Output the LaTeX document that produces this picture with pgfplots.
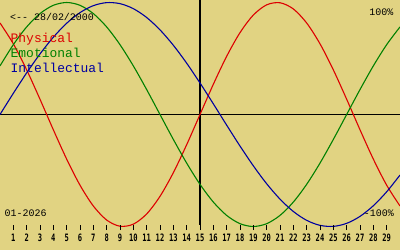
\documentclass[border=0pt]{standalone}
\usepackage{fontspec}
\usepackage{pgfplots}
\pgfplotsset{compat=1.18}
\setmonofont{Liberation Mono}
\newfontfamily\ticksfont[FakeStretch=0.7]{DejaVu Sans Mono}
\definecolor{bgc}{HTML}{E1D382}
\definecolor{phys}{HTML}{DD0000}
\definecolor{emo}{HTML}{008000}
\definecolor{intel}{HTML}{0000A0}
\begin{document}
\begin{tikzpicture}
\fill[bgc] (0,0) rectangle (400bp,250bp);
\begin{axis}[at={(0,0)}, anchor=south west, scale only axis,
  width=400bp, height=250bp, xmin=0, xmax=30, ymin=-120.98, ymax=102.23,
  hide axis, clip=true]
\addplot[black, line width=1.5bp] coordinates {(0,0) (30,0)};
\addplot[black, line width=1.3bp] coordinates {(15,102.23) (15,-99.1)};
% Physical (23 days)
\addplot[phys, line width=1.1bp, smooth] coordinates {
(0,81.70) (1,63.11) (2,39.84) (3,13.62) (4,-13.62) (5,-39.84) (6,-63.11) (7,-81.70)
(8,-94.23) (9,-99.77) (10,-97.91) (11,-88.79) (12,-73.08) (13,-51.96) (14,-26.98)
(15,0) (16,26.98) (17,51.96) (18,73.08) (19,88.79) (20,97.91) (21,99.77) (22,94.23)
(23,81.70) (24,63.11) (25,39.84) (26,13.62) (27,-13.62) (28,-39.84) (29,-63.11) (30,-81.70)};
% Emotional (28 days)
\addplot[emo, line width=1.1bp, smooth] coordinates {
(0,43.39) (1,62.35) (2,78.18) (3,90.10) (4,97.49) (5,100) (6,97.49) (7,90.10)
(8,78.18) (9,62.35) (10,43.39) (11,22.25) (12,0) (13,-22.25) (14,-43.39) (15,-62.35)
(16,-78.18) (17,-90.10) (18,-97.49) (19,-100) (20,-97.49) (21,-90.10) (22,-78.18)
(23,-62.35) (24,-43.39) (25,-22.25) (26,0) (27,22.25) (28,43.39) (29,62.35) (30,78.18)};
% Intellectual (33 days)
\addplot[intel, line width=1.1bp, smooth] coordinates {
(0,0) (1,18.93) (2,37.17) (3,54.06) (4,69.01) (5,81.46) (6,90.96) (7,97.18)
(8,99.89) (9,98.98) (10,94.50) (11,86.60) (12,75.57) (13,61.82) (14,45.82) (15,28.17)
(16,9.51) (17,-9.51) (18,-28.17) (19,-45.82) (20,-61.82) (21,-75.57) (22,-86.60)
(23,-94.50) (24,-98.98) (25,-99.89) (26,-97.18) (27,-90.96) (28,-81.46) (29,-69.01) (30,-54.06)};
\end{axis}
\begin{axis}[at={(0,20bp)}, anchor=south west, scale only axis,
  width=400bp, height=10bp, xmin=0, xmax=30, ymin=0, ymax=1,
  hide y axis, axis x line*=bottom, x axis line style={draw=none},
  xtick={1,...,29}, tick align=inside, major tick length=5bp,
  every tick/.style={black, line width=1bp},
  /pgf/number format/assume math mode=true,
  xticklabel style={font=\ticksfont\bfseries\fontsize{10.2}{10.2}\selectfont,
    anchor=base, inner sep=0pt, yshift=-11.8bp}]
\addplot[draw=none] coordinates {(0,0) (30,1)};
\end{axis}
\node[anchor=base west, inner sep=0pt, font=\ttfamily\fontsize{10}{10}\selectfont] at (10bp,229.3bp) {<-- 28/02/2000};
\node[anchor=base west, inner sep=0pt, text=phys, font=\ttfamily\fontsize{13}{13}\selectfont] at (10.5bp,207.3bp) {Physical};
\node[anchor=base west, inner sep=0pt, text=emo, font=\ttfamily\fontsize{13}{13}\selectfont] at (10.5bp,192.5bp) {Emotional};
\node[anchor=base west, inner sep=0pt, text=intel, font=\ttfamily\fontsize{13}{13}\selectfont] at (10.5bp,177.5bp) {Intellectual};
\node[anchor=base west, inner sep=0pt, font=\ttfamily\fontsize{10}{10}\selectfont] at (4.5bp,34bp) {01-2026};
\node[anchor=base east, inner sep=0pt, font=\ttfamily\fontsize{10}{10}\selectfont] at (393.5bp,234bp) {100\%};
\node[anchor=base east, inner sep=0pt, font=\ttfamily\fontsize{10}{10}\selectfont] at (394bp,34bp) {-100\%};
\pgfresetboundingbox
\useasboundingbox (0,0) rectangle (400bp,250bp);
\end{tikzpicture}
\end{document}
